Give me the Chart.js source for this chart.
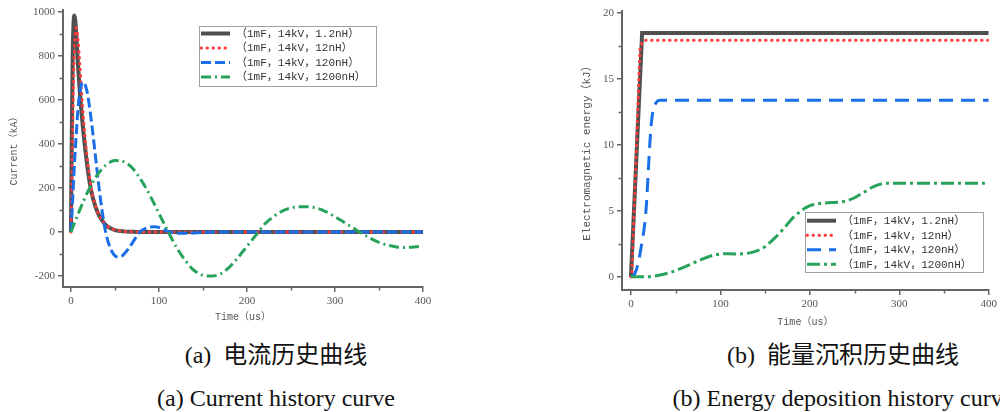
<!DOCTYPE html>
<html>
<head>
<meta charset="utf-8">
<script src="https://cdn.jsdelivr.net/npm/chart.js@4.4.1/dist/chart.umd.min.js"></script>
<style>
  html, body { margin:0; padding:0; background:#fff; }
  body { width:1000px; height:412px; overflow:hidden; position:relative; }
  canvas { position:absolute; top:0; }
  .cap { position:absolute; text-align:center; white-space:pre; font-family:'Liberation Serif','Noto Sans CJK SC',serif; font-size:24px; line-height:30px; color:#111; }
</style>
</head>
<body>
<canvas id="c1" width="440" height="330" style="left:0px"></canvas>
<canvas id="c2" width="440" height="335" style="left:560px"></canvas>
<div class="cap" style="left:0px;width:552px;top:340px">(a)  电流历史曲线</div>
<div class="cap" style="left:0px;width:552px;top:383px">(a) Current history curve</div>
<div class="cap" style="left:543px;width:600px;top:340px">(b)  能量沉积历史曲线</div>
<div class="cap" style="left:543px;width:600px;top:383px">(b) Energy deposition history curve</div>
<script>
// ---------- series names ----------
const seriesLabels = ['（1mF，14kV，1.2nH）', '（1mF，14kV，12nH）', '（1mF，14kV，120nH）', '（1mF，14kV，1200nH）'];

// ---------- (a) current history, kA vs us ----------
const curT_1p2 = [0,1,2,3,4,5,6,8,10,12,14,16,18,20,22,25,30,35,40,45,50,60,70,80,400];
const curI_1p2 = [0,450,800,950,985,960,900,760,645,545,460,385,320,260,210,155,92,55,30,17,9,3,1,0,0];

const curT_12 = [0,1,2,3,4,5,6,7,8,10,12,14,16,18,20,22,25,30,35,40,45,50,60,70,80,400];
const curI_12 = [0,200,450,680,830,905,928,915,880,770,640,530,435,355,285,225,160,95,56,32,18,10,3,1,0,0];

const curT_120 = [0,2,4,6,8,10,12,14,16,18,20,24,28,32,36,40,44,48,52,56,60,65,70,75,80,85,90,95,100,105,110,115,120,130,140,150,170,400];
const curI_120 = [0,150,310,440,560,630,672,682,672,645,600,480,340,200,80,-10,-65,-98,-112,-112,-102,-78,-48,-18,6,17,23,24,21,13,4,-2,-5,-6,-4,-2,0,0];

const curT_1200 = [0,10,20,30,40,50,60,70,80,90,100,110,120,130,140,150,160,170,180,190,200,210,220,230,240,250,260,270,280,290,300,310,320,330,340,350,360,370,380,390,400];
const curI_1200 = [0,100,190,260,305,325,320,290,235,165,85,5,-70,-130,-175,-197,-200,-190,-160,-115,-65,-15,35,70,95,110,115,115,108,92,70,45,20,-5,-28,-47,-60,-68,-70,-68,-63];

// ---------- (b) energy deposition, kJ vs us ----------
const engT_1p2 = [0,12.5,400];
const engE_1p2 = [0,18.5,18.5];

const engT_12 = [0,1,10,12,15,400];
const engE_12 = [0,0,17.2,17.7,17.95,17.95];

const engT_120 = [0,4,8,12,15,17,19,21,23,25,28,32,400];
const engE_120 = [0,0.2,1.0,2.5,3.8,5.2,7.5,10,11.8,12.7,13.2,13.4,13.4];

const engT_1200 = [0,15,30,45,60,75,90,100,110,120,130,140,150,160,170,180,190,200,210,220,230,240,250,260,270,280,290,400];
const engE_1200 = [0,0,0.1,0.35,0.75,1.2,1.6,1.73,1.75,1.73,1.78,1.95,2.3,2.9,3.6,4.4,5.0,5.4,5.55,5.62,5.65,5.75,6.0,6.4,6.8,7.05,7.1,7.1];

// ---------- ticks ----------
const curXTicks = [0,100,200,300,400];
const curXMinor = [50,150,250,350];
const curYTicks = [-200,0,200,400,600,800,1000];
const curYMinor = [-100,100,300,500,700,900];
const engXTicks = [0,100,200,300,400];
const engXMinor = [50,150,250,350];
const engYTicks = [0,5,10,15,20];
const engYMinor = [2.5,7.5,12.5,17.5];

// ---------- helpers ----------
const pts = (t, v) => t.map((x, i) => ({x: x, y: v[i]}));
const AXIS = '#666';
const COLORS = ['#505050', '#ff3b3b', '#1a6ee8', '#27a35c'];
const monoFont = "'Liberation Mono','Noto Sans CJK SC',monospace";
const serifFont = "'Liberation Serif','Times New Roman',serif";

const minorTicks = {
  id: 'minorTicks',
  afterDraw(chart, args, opts) {
    const ctx = chart.ctx, a = chart.chartArea;
    const xs = chart.scales.x, ys = chart.scales.y;
    ctx.save();
    ctx.strokeStyle = AXIS; ctx.lineWidth = 1.5;
    ctx.beginPath();
    (opts.x || []).forEach(v => { const p = Math.round(xs.getPixelForValue(v)) + 0.5; ctx.moveTo(p, a.bottom); ctx.lineTo(p, a.bottom + 3.5); });
    (opts.y || []).forEach(v => { const p = Math.round(ys.getPixelForValue(v)) + 0.5; ctx.moveTo(a.left, p); ctx.lineTo(a.left - 3.5, p); });
    ctx.stroke();
    ctx.restore();
  }
};

const boxLegend = {
  id: 'boxLegend',
  afterDatasetsDraw(chart, args, o) {
    const ctx = chart.ctx;
    ctx.save();
    ctx.fillStyle = '#fff';
    ctx.fillRect(o.x, o.y, o.w, o.h);
    ctx.strokeStyle = '#a0a0a0'; ctx.lineWidth = 1;
    ctx.strokeRect(o.x + 0.5, o.y + 0.5, o.w, o.h);
    chart.data.datasets.forEach((d, i) => {
      const cy = o.y + o.padTop + i * o.row;
      ctx.beginPath();
      ctx.setLineDash(d.borderDash || []);
      ctx.lineCap = d.borderCapStyle || 'butt';
      ctx.strokeStyle = d.borderColor; ctx.lineWidth = d.borderWidth;
      ctx.moveTo(o.x + 2, cy); ctx.lineTo(o.x + 31, cy);
      ctx.stroke();
      ctx.setLineDash([]);
      ctx.fillStyle = '#333';
      ctx.font = o.font;
      ctx.textBaseline = 'middle';
      ctx.fillText(d.label, o.x + 37, cy + 0.5);
    });
    ctx.restore();
  }
};

function axis(ticks, min, max, fitKey, fitVal, title, titleSize, titlePad) {
  return {
    type: 'linear', min: min, max: max,
    afterBuildTicks: s => { s.ticks = ticks.map(v => ({value: v})); },
    afterFit: s => { s[fitKey] = fitVal; },
    grid: { drawOnChartArea: false, drawTicks: true, tickLength: 5, color: AXIS, lineWidth: 1.5 },
    border: { display: true, color: AXIS, width: 2 },
    ticks: { color: '#555', font: { family: serifFont, size: 11 }, padding: 3, maxRotation: 0, autoSkip: false,
             callback: v => String(v) },
    title: { display: true, text: title, color: '#555', font: { family: monoFont, size: titleSize }, padding: titlePad }
  };
}

function makeDatasets(series, styles) {
  return series.map((s, i) => Object.assign({
    label: seriesLabels[i], data: pts(s[0], s[1]),
    borderColor: COLORS[i], pointRadius: 0, fill: false,
    order: series.length - 1 - i
  }, styles[i]));
}

Chart.defaults.animation = false;

// (a)
new Chart(document.getElementById('c1'), {
  type: 'line',
  data: { datasets: makeDatasets(
    [[curT_1p2, curI_1p2], [curT_12, curI_12], [curT_120, curI_120], [curT_1200, curI_1200]],
    [
      { borderWidth: 4, cubicInterpolationMode: 'monotone' },
      { borderWidth: 3, borderDash: [0.5, 5.5], borderCapStyle: 'round', cubicInterpolationMode: 'monotone' },
      { borderWidth: 3, borderDash: [10, 4], cubicInterpolationMode: 'monotone' },
      { borderWidth: 3, borderDash: [10, 4, 2, 4], cubicInterpolationMode: 'monotone' }
    ]) },
  options: {
    responsive: false, devicePixelRatio: 1,
    layout: { padding: { left: 0, top: 10, right: 17, bottom: 0 } },
    scales: {
      x: axis(curXTicks, -9, 400, 'height', 43, 'Time（us）', 10, { top: 0, bottom: 6.4 }),
      y: axis(curYTicks, -250, 1010, 'width', 63, 'Current（kA）', 10, { top: 8.4, bottom: 0 })
    },
    plugins: {
      legend: { display: false }, tooltip: { enabled: false },
      minorTicks: { x: curXMinor, y: curYMinor },
      boxLegend: { x: 199, y: 26, w: 177, h: 60, padTop: 7.5, row: 14.5, font: '11px ' + monoFont }
    }
  },
  plugins: [minorTicks, boxLegend]
});

// (b)
new Chart(document.getElementById('c2'), {
  type: 'line',
  data: { datasets: makeDatasets(
    [[engT_1p2, engE_1p2], [engT_12, engE_12], [engT_120, engE_120], [engT_1200, engE_1200]],
    [
      { borderWidth: 4 },
      { borderWidth: 3, borderDash: [0.5, 5.5], borderCapStyle: 'round' },
      { borderWidth: 3, borderDash: [14, 8], cubicInterpolationMode: 'monotone' },
      { borderWidth: 3, borderDash: [13, 4, 3, 4], cubicInterpolationMode: 'monotone' }
    ]) },
  options: {
    responsive: false, devicePixelRatio: 1,
    layout: { padding: { left: 0, top: 11, right: 10, bottom: 0 } },
    scales: {
      x: axis(engXTicks, -10, 400, 'height', 45, 'Time（us）', 10, { top: 0, bottom: 6.4 }),
      y: axis(engYTicks, -1, 20.17, 'width', 62, 'Electromagnetic energy（kJ）', 11, { top: 20.4, bottom: 0 })
    },
    plugins: {
      legend: { display: false }, tooltip: { enabled: false },
      minorTicks: { x: engXMinor, y: engYMinor },
      boxLegend: { x: 245, y: 212, w: 178, h: 60, padTop: 8.7, row: 14.5, font: '11px ' + monoFont }
    }
  },
  plugins: [minorTicks, boxLegend]
});
</script>
</body>
</html>
